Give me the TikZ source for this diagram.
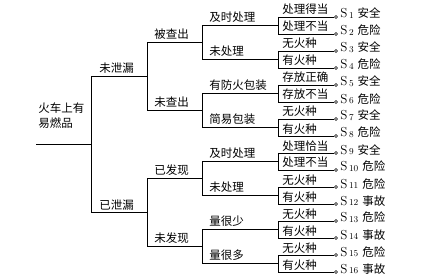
\documentclass[tikz,border=0pt]{standalone}
\usepackage{fontspec}
\newfontfamily\cjk{Noto Sans CJK SC}
\begin{document}
\begin{tikzpicture}[x=1pt,y=-1pt,line width=0.9pt,
  lbl/.style={font=\cjk\fontsize{11.5}{15}\selectfont, inner sep=0pt, anchor=base west},
  outl/.style={font=\fontsize{13}{15}\selectfont, inner sep=0pt, anchor=base west},
  endpt/.style={circle, draw, fill=white, inner sep=0pt, minimum size=3pt, line width=0.6pt}]
\useasboundingbox (0,0) rectangle (429,278);
% root
\coordinate (R0) at (36,144.5);
\coordinate (R) at (91,144.5);
\draw (R0) -- (R);
\node[lbl, align=left] (root) at (38,127.5) {火车上有\\易燃品};
% level 1
\foreach \t [count=\h] in {未泄漏,已泄漏}{
  \coordinate (A\h) at (91,136*\h-59.5);
  \coordinate (Ae\h) at (147,136*\h-59.5);
  \draw (A\h) -- (Ae\h);
  \node[lbl] (la\h) at (99,136*\h-63) {\t};
}
\draw (A1) -- (A2);
% level 2
\foreach \t [count=\i] in {被查出,未查出,已发现,未发现}{
  \coordinate (B\i) at (147,68*\i-25.5);
  \coordinate (Be\i) at (202,68*\i-25.5);
  \draw (B\i) -- (Be\i);
  \node[lbl] (lb\i) at (154,68*\i-29.5) {\t};
}
\draw (B1) -- (B2);
\draw (B3) -- (B4);
% level 3
\foreach \t [count=\j] in {及时处理,未处理,有防火包装,简易包装,及时处理,未处理,量很少,量很多}{
  \coordinate (C\j) at (202,34*\j-8.5);
  \coordinate (Ce\j) at (278,34*\j-8.5);
  \draw (C\j) -- (Ce\j);
  \node[lbl] (lc\j) at (209,34*\j-12.5) {\t};
}
\foreach \m in {1,3,5,7}{
  \pgfmathtruncatemacro{\n}{\m+1}
  \draw (C\m) -- (C\n);
}
% level 4
\foreach \t [count=\k] in {处理得当,处理不当,无火种,有火种,存放正确,存放不当,无火种,有火种,处理恰当,处理不当,无火种,有火种,无火种,有火种,无火种,有火种}{
  \coordinate (D\k) at (278,17*\k);
  \node[endpt] (E\k) at (336,17*\k) {};
  \draw (D\k) -- (E\k.west);
  \node[lbl] (ld\k) at (282,17*\k-3) {\t};
}
\foreach \m in {1,3,5,7,9,11,13,15}{
  \pgfmathtruncatemacro{\n}{\m+1}
  \draw (D\m) -- (D\n);
}
% outcomes
\foreach \t [count=\k] in {安全,危险,安全,危险,安全,危险,安全,危险,安全,危险,危险,事故,危险,事故,危险,事故}{
  \node[outl] (s\k) at (340,17*\k+1) {S\hspace{1.5pt}\raisebox{-0.5pt}{\fontsize{9}{9}\selectfont\k}\hspace{4pt}{\cjk\fontsize{11.5}{15}\selectfont\t}};
}
\end{tikzpicture}
\end{document}
